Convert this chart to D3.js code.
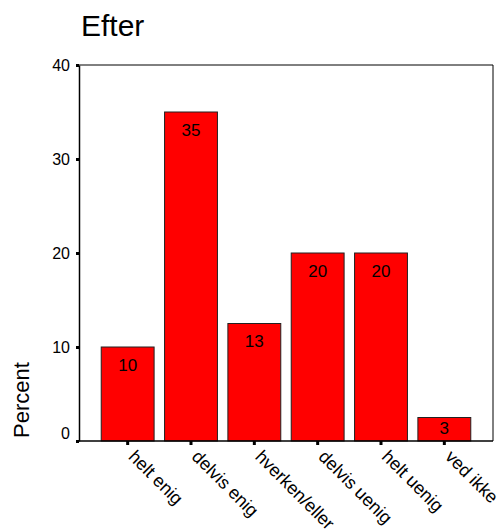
<!DOCTYPE html>
<html>
<head>
<meta charset="utf-8">
<script src="https://cdn.jsdelivr.net/npm/d3@7"></script>
<style>
  html, body { margin: 0; padding: 0; background: #fff; }
  svg { display: block; font-family: "Liberation Sans", Arial, sans-serif; }
</style>
</head>
<body>
<svg id="chart" width="499" height="529"></svg>
<script>
const title = "Efter";
const yAxisTitle = "Percent";
const categories = ["helt enig", "delvis enig", "hverken/eller", "delvis uenig", "helt uenig", "ved ikke"];
const percents = [10, 35, 12.5, 20, 20, 2.5];
const barLabels = ["10", "35", "13", "20", "20", "3"];
const yTicks = [0, 10, 20, 30, 40];

const svg = d3.select("#chart");
const frame = { left: 79, right: 493, top: 65, bottom: 441 };

const x = d3.scaleBand()
  .domain(categories)
  .range([96, 476])
  .paddingInner(0.165)
  .paddingOuter(0.0825);

const y = d3.scaleLinear().domain([0, 40]).range([frame.bottom, frame.top]);

// title
svg.append("text")
  .attr("x", 81).attr("y", 36)
  .attr("font-size", 30)
  .attr("fill", "#000")
  .text(title);

// bars
svg.append("g").selectAll("rect")
  .data(percents)
  .join("rect")
  .attr("x", (d, i) => x(categories[i]))
  .attr("y", d => y(d))
  .attr("width", x.bandwidth())
  .attr("height", d => y(0) - y(d))
  .attr("fill", "#ff0000")
  .attr("stroke", "#222")
  .attr("stroke-width", 1);

// bar labels
svg.append("g").selectAll("text")
  .data(percents)
  .join("text")
  .attr("x", (d, i) => x(categories[i]) + x.bandwidth() / 2)
  .attr("y", d => Math.min(y(d) + 23.5, y(0) - 7))
  .attr("text-anchor", "middle")
  .attr("font-size", 17)
  .attr("fill", "#000")
  .text((d, i) => barLabels[i]);

// frame (top and right)
svg.append("path")
  .attr("d", `M${frame.left},${frame.top}H${frame.right}V${frame.bottom}`)
  .attr("fill", "none")
  .attr("stroke", "#000")
  .attr("stroke-width", 1);

// y axis
const yAxis = svg.append("g")
  .attr("transform", `translate(${frame.left},0)`)
  .call(d3.axisLeft(y).tickValues(yTicks).tickSize(3).tickSizeOuter(0).tickPadding(6));
yAxis.select(".domain").attr("stroke", "#000").attr("stroke-width", 1.5);
yAxis.selectAll(".tick line").attr("stroke", "#000").attr("stroke-width", 3);
yAxis.selectAll(".tick text")
  .attr("font-size", 16)
  .attr("font-family", "Liberation Sans, Arial, sans-serif")
  .attr("fill", "#000")
  .attr("dy", d => d === 0 ? "-0.15em" : "0.32em");

// x axis
const xAxis = svg.append("g")
  .attr("transform", `translate(0,${frame.bottom})`)
  .call(d3.axisBottom(x).tickSize(4).tickSizeOuter(0).tickFormat(() => ""));
xAxis.select(".domain")
  .attr("d", `M${frame.left},0H${frame.right}`)
  .attr("stroke", "#000").attr("stroke-width", 1.5);
xAxis.selectAll(".tick line").attr("stroke", "#000").attr("stroke-width", 3);
xAxis.selectAll(".tick").append("text")
  .attr("transform", "translate(5,13) rotate(45)")
  .attr("x", -1)
  .attr("dy", "0.35em")
  .attr("text-anchor", "start")
  .attr("font-size", 18)
  .attr("font-family", "Liberation Sans, Arial, sans-serif")
  .attr("fill", "#000")
  .text(d => d);

// y axis title
svg.append("text")
  .attr("transform", "translate(29,400) rotate(-90)")
  .attr("text-anchor", "middle")
  .attr("font-size", 22)
  .attr("fill", "#000")
  .text(yAxisTitle);
</script>
</body>
</html>
